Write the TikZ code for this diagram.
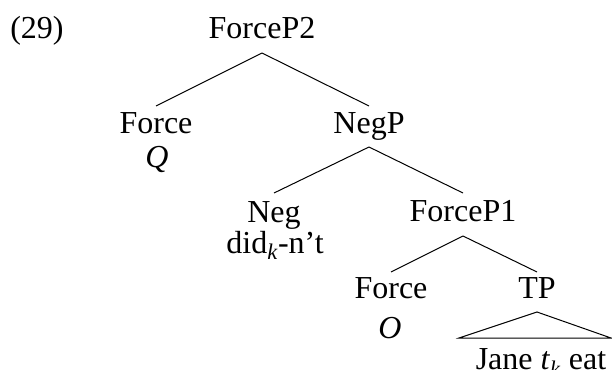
\documentclass[tikz,border=0pt]{standalone}
\usepackage{fontspec}
\setmainfont{Liberation Serif}
\begin{document}
\begin{tikzpicture}[x=1pt,y=-1pt,
  lab/.style={anchor=base,inner sep=0pt,font=\fontsize{32}{38}\selectfont},
  edge/.style={line width=1pt}]
\useasboundingbox (0,0) rectangle (612,369);
\node[lab] (ex) at (37,39) {(29)};
\node[lab] (fp2) at (262,39) {ForceP2};
\node[lab] (f2) at (156,133) {Force};
\node[lab] (q) at (157,167) {\textit{Q}};
\node[lab] (negp) at (369,133) {NegP};
\node[lab] (neg) at (274,222) {Neg};
\node[lab] (did) at (275,253) {did\textsubscript{\textit{k}}-n’t};
\node[lab] (fp1) at (463,221) {ForceP1};
\node[lab] (f1) at (391,298) {Force};
\node[lab] (o) at (390,338) {\textit{O}};
\node[lab] (tp) at (537,298) {TP};
\node[lab] (jane) at (541,369.5) {Jane \textit{t}\textsubscript{\textit{k}} eat};
\coordinate (tl) at (459,338);
\coordinate (tr) at (611,338);
\draw[edge] ([yshift=-14pt]fp2.base) -- ([yshift=27pt]f2.base);
\draw[edge] ([yshift=-14pt]fp2.base) -- ([yshift=27pt]negp.base);
\draw[edge] ([yshift=-14pt]negp.base) -- ([yshift=29pt]neg.base);
\draw[edge] ([yshift=-14pt]negp.base) -- ([yshift=28pt]fp1.base);
\draw[edge] ([yshift=-15pt]fp1.base) -- ([yshift=26pt]f1.base);
\draw[edge] ([yshift=-15pt]fp1.base) -- ([yshift=26pt]tp.base);
\draw[edge] (tl) -- ([yshift=-14pt]tp.base) -- (tr) -- cycle;
\end{tikzpicture}
\end{document}
